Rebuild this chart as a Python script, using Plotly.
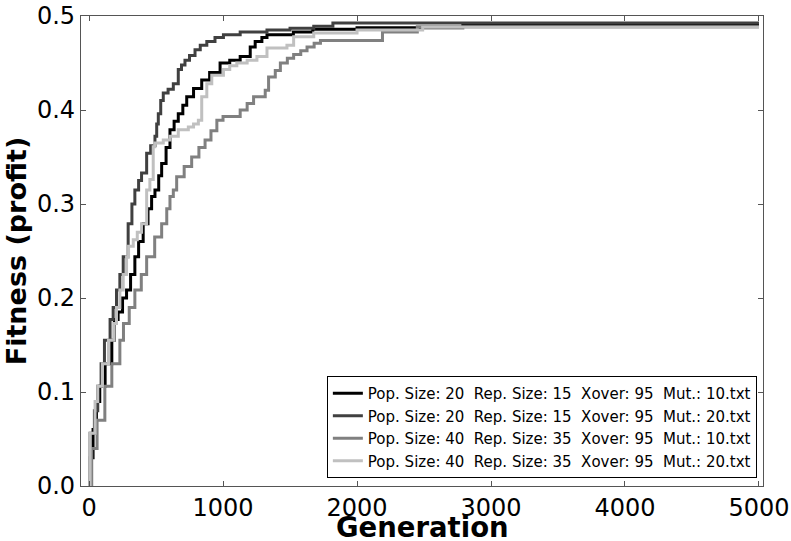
import plotly.graph_objects as go

FONT = "DejaVu Sans"

labels = [
    "Pop. Size: 20  Rep. Size: 15  Xover: 95  Mut.: 10.txt",
    "Pop. Size: 20  Rep. Size: 15  Xover: 95  Mut.: 20.txt",
    "Pop. Size: 40  Rep. Size: 35  Xover: 95  Mut.: 10.txt",
    "Pop. Size: 40  Rep. Size: 35  Xover: 95  Mut.: 20.txt",
]
colors = ["#000000", "#404040", "#808080", "#c0c0c0"]

# Pop 20 / Mut 10 (black)
gen_a = [0, 10, 30, 55, 80, 120, 170, 189, 217, 250, 280, 310, 342, 370, 404, 440, 467, 492,
         520, 542, 575, 604, 635, 666, 700, 729, 780, 841, 900, 978, 1050, 1128, 1203, 1240,
         1290, 1328, 1525, 1670, 2000, 2790, 5000]
fit_a = [0, 0.03, 0.06, 0.09, 0.106, 0.13, 0.155, 0.177, 0.185, 0.20, 0.2085, 0.225, 0.244,
         0.26, 0.279, 0.295, 0.308, 0.315, 0.33, 0.343, 0.36, 0.379, 0.388, 0.396, 0.405, 0.414,
         0.423, 0.432, 0.44, 0.450, 0.453, 0.457, 0.467, 0.473, 0.477, 0.480, 0.483, 0.486,
         0.4875, 0.4905, 0.4905]

# Pop 20 / Mut 20 (dark grey)
gen_b = [0, 8, 40, 65, 90, 115, 157, 180, 205, 230, 255, 292, 320, 342, 370, 392, 430, 460,
         492, 505, 517, 535, 554, 590, 629, 666, 690, 716, 750, 791, 830, 879, 940, 1003, 1128,
         1328, 1500, 1677, 1820, 5000]
fit_b = [0, 0.056, 0.08, 0.106, 0.13, 0.155, 0.177, 0.19, 0.2085, 0.225, 0.244, 0.279, 0.30,
         0.315, 0.325, 0.333, 0.354, 0.362, 0.372, 0.385, 0.396, 0.41, 0.418, 0.422, 0.428,
         0.443, 0.448, 0.453, 0.458, 0.464, 0.469, 0.473, 0.477, 0.480, 0.483, 0.485, 0.487,
         0.489, 0.4925, 0.4925]

# Pop 40 / Mut 10 (grey)
gen_c = [0, 20, 60, 118, 170, 230, 257, 300, 342, 390, 430, 490, 542, 580, 604, 629, 654, 710,
         766, 820, 866, 910, 954, 1000, 1128, 1180, 1228, 1315, 1340, 1390, 1428, 1480, 1527,
         1580, 1627, 1680, 1727, 2190, 2450, 5000]
fit_c = [0, 0.04, 0.07, 0.106, 0.13, 0.155, 0.173, 0.19, 0.2085, 0.225, 0.244, 0.265, 0.279,
         0.295, 0.308, 0.315, 0.329, 0.34, 0.350, 0.36, 0.368, 0.378, 0.389, 0.393, 0.40, 0.407,
         0.414, 0.421, 0.435, 0.442, 0.450, 0.455, 0.459, 0.463, 0.467, 0.471, 0.474, 0.483,
         0.4885, 0.4885]

# Pop 40 / Mut 20 (light grey)
gen_d = [0, 8, 45, 65, 100, 145, 187, 205, 230, 255, 280, 295, 330, 360, 392, 430, 454, 479,
         490, 554, 604, 666, 741, 780, 816, 841, 879, 916, 1003, 1050, 1103, 1180, 1253, 1328,
         1477, 1527, 1677, 2000, 2490, 5000]
fit_d = [0, 0.056, 0.09, 0.106, 0.13, 0.155, 0.173, 0.19, 0.2085, 0.225, 0.244, 0.255, 0.262,
         0.27, 0.279, 0.315, 0.326, 0.361, 0.365, 0.368, 0.372, 0.379, 0.382, 0.385, 0.389,
         0.414, 0.428, 0.437, 0.443, 0.447, 0.450, 0.453, 0.457, 0.466, 0.469, 0.478, 0.482,
         0.485, 0.488, 0.488]

series = [(gen_a, fit_a), (gen_b, fit_b), (gen_c, fit_c), (gen_d, fit_d)]

y_ticks = [0.0, 0.1, 0.2, 0.3, 0.4, 0.5]
x_ticks = [0, 1000, 2000, 3000, 4000, 5000]

fig = go.Figure()
for (g, f), name, col in zip(series, labels, colors):
    fig.add_trace(go.Scatter(
        x=g, y=f, mode="lines", name=name.replace(" ", "\u00a0"),
        line=dict(color=col, width=3, shape="hv"),
    ))

axis_common = dict(
    showline=True, linecolor="#555555", linewidth=1.3, mirror="ticks",
    ticks="inside", ticklen=5, tickcolor="#555555", tickwidth=1,
    showgrid=False, zeroline=False, automargin=False,
    tickfont=dict(family=FONT, size=24, color="black"),
)

fig.update_xaxes(
    range=[-60, 5030], tickvals=x_ticks, ticktext=[str(v) for v in x_ticks],
    **axis_common,
)
fig.update_yaxes(
    range=[0, 0.5], tickvals=y_ticks, ticktext=[f"{v:.1f}" for v in y_ticks],
    title=dict(text="<b>Fitness (profit)</b>", font=dict(family=FONT, size=27, color="black"), standoff=2),
    **axis_common,
)

fig.add_annotation(
    text="<b>Generation</b>", xref="paper", yref="paper", x=0.5, y=-0.052,
    xanchor="center", yanchor="top", showarrow=False, borderpad=0,
    font=dict(family=FONT, size=27.5, color="black"),
)

fig.update_layout(
    width=791, height=541,
    margin=dict(l=81, r=28, t=16, b=55, autoexpand=False),
    paper_bgcolor="white", plot_bgcolor="white",
    showlegend=True,
    legend=dict(
        x=0.991, y=0.017, xanchor="right", yanchor="bottom",
        bordercolor="black", borderwidth=1, bgcolor="white",
        font=dict(family=FONT, size=15, color="black"),
        tracegroupgap=0, itemwidth=30,
    ),
)

fig.write_html(
    "out.html",
    config={"displayModeBar": False},
    post_script="document.body.style.margin='0';document.body.style.overflow='hidden';",
)
